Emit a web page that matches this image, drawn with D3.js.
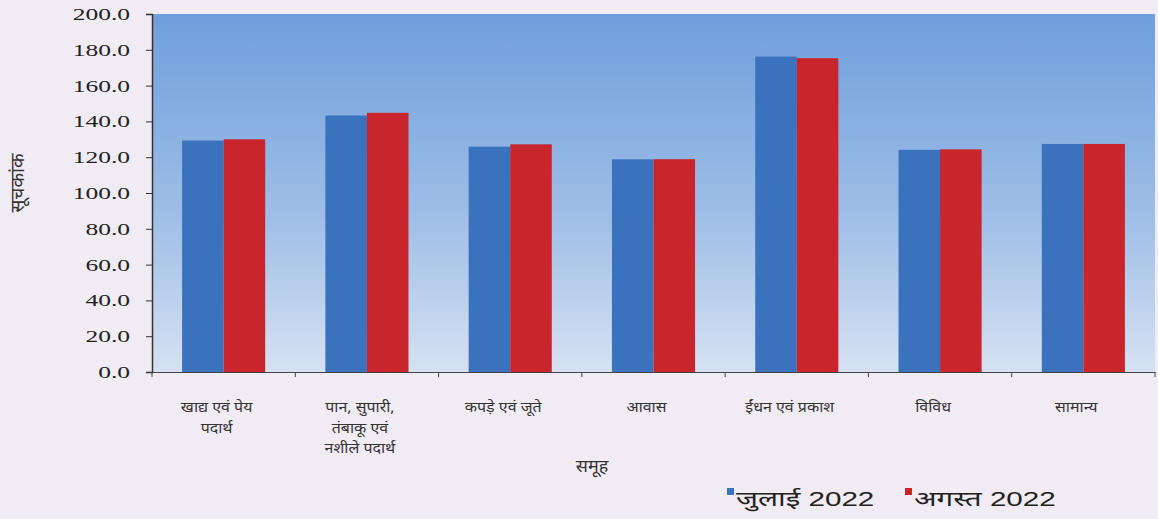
<!DOCTYPE html>
<html><head><meta charset="utf-8">
<script src="https://cdn.jsdelivr.net/npm/d3@7"></script>
<style>
html,body{margin:0;padding:0;background:#f1ebf3;}
svg{display:block;}
</style></head>
<body>
<svg id="chart" width="1158" height="519"></svg>
<script>
const categories = [
  ["खाद्य एवं पेय","पदार्थ"],
  ["पान, सुपारी,","तंबाकू एवं","नशीले पदार्थ"],
  ["कपड़े एवं जूते"],
  ["आवास"],
  ["ईंधन एवं प्रकाश"],
  ["विविध"],
  ["सामान्य"]
];
const seriesNames = ["जुलाई 2022","अगस्त 2022"];
const july2022 = [129.3, 143.3, 125.9, 118.8, 176.2, 124.1, 127.4];
const august2022 = [130.0, 144.8, 127.2, 118.9, 175.3, 124.4, 127.4];
const yTicks = [0,20,40,60,80,100,120,140,160,180,200];
const colors = ["#3a72bd","#c9252d"];

const svg = d3.select("#chart");
const m = {left:152, right:3, top:14, bottom:147};
const W = 1158, H = 519;
const x = d3.scaleBand().domain(d3.range(categories.length)).range([m.left, W - m.right]).paddingInner(0.42).paddingOuter(0.21);
const x1 = d3.scaleBand().domain([0,1]).range([0, x.bandwidth()]);
const y = d3.scaleLinear().domain([0,200]).range([H - m.bottom, m.top]);

function stretch(sel, f){
  sel.each(function(){
    const L = this.getComputedTextLength();
    if (L > 0) d3.select(this).attr("textLength", L*f).attr("lengthAdjust","spacingAndGlyphs");
  });
}

const defs = svg.append("defs");
const g = defs.append("linearGradient").attr("id","bg").attr("x1",0).attr("y1",0).attr("x2",0).attr("y2",1);
g.append("stop").attr("offset","0%").attr("stop-color","#6f9fdc");
g.append("stop").attr("offset","55%").attr("stop-color","#9dbde6");
g.append("stop").attr("offset","100%").attr("stop-color","#d6e1f2");

svg.append("rect").attr("x",m.left).attr("y",y(200)).attr("width",W-m.right-m.left).attr("height",y(0)-y(200)).attr("fill","url(#bg)");

const data = [july2022, august2022];
categories.forEach((c,i)=>{
  data.forEach((s,j)=>{
    svg.append("rect")
      .attr("x", x(i)+x1(j))
      .attr("y", y(s[i]))
      .attr("width", x1.bandwidth())
      .attr("height", y(0)-y(s[i]))
      .attr("fill", colors[j]);
  });
});

// y axis
const ya = svg.append("g").attr("transform",`translate(${m.left},0)`)
  .call(d3.axisLeft(y).tickValues(yTicks).tickFormat(d3.format(".1f")).tickSize(6).tickPadding(16));
ya.attr("font-family",null);
ya.select(".domain").attr("stroke","#333").attr("stroke-width",1.5);
ya.selectAll(".tick line").attr("stroke","#333");
ya.selectAll("text").style("font-family","'Liberation Serif', 'DejaVu Serif', serif").style("font-size","17px").attr("fill","#222");
stretch(ya.selectAll("text"), 1.5);

// x axis
const xa = svg.append("g").attr("transform",`translate(0,${y(0)})`)
  .call(d3.axisBottom(x).tickValues([]).tickSizeOuter(0));
xa.select(".domain").attr("stroke","#444").attr("stroke-width",1.2);
const bounds = d3.range(categories.length+1).map(i=> m.left + i*x.step());
xa.selectAll(".sep").data(bounds).enter().append("line").attr("class","sep")
  .attr("x1",d=>d).attr("x2",d=>d).attr("y1",0).attr("y2",5).attr("stroke","#444");

// category labels
categories.forEach((lines,i)=>{
  const cx = x(i)+x.bandwidth()/2 - 7;
  const t = svg.append("text").attr("x", cx).attr("y", 412)
    .attr("text-anchor","middle").style("font-family","'Noto Sans', sans-serif").style("font-size","14px").attr("fill","#333");
  lines.forEach((l,k)=> t.append("tspan").attr("x", cx).attr("dy", k===0?0:20.5).text(l));
  stretch(t.selectAll("tspan"), 1.14);
});

// axis titles
svg.append("text").attr("x",592).attr("y",472).attr("text-anchor","middle")
  .style("font-family","'Noto Sans', sans-serif").style("font-size","18px").attr("fill","#333").text("समूह");
svg.append("text").attr("transform","translate(24,183) rotate(-90)").attr("text-anchor","middle")
  .style("font-family","'Noto Sans', sans-serif").style("font-size","19px").attr("fill","#333").text("सूचकांक");

// legend
const lg = [{x:727, c:colors[0], t:seriesNames[0]},{x:905, c:colors[1], t:seriesNames[1]}];
lg.forEach(d=>{
  svg.append("rect").attr("x",d.x).attr("y",488).attr("width",7).attr("height",7).attr("fill",d.c);
  const t = svg.append("text").attr("class","lgt").attr("x",d.x+9).attr("y",506).style("font-family","'Liberation Sans', 'Noto Sans', sans-serif")
    .style("font-size","20px").attr("fill","#222").attr("xml:space","preserve").text(d.t);
  stretch(t, 1.48);
});
</script>
</body></html>
